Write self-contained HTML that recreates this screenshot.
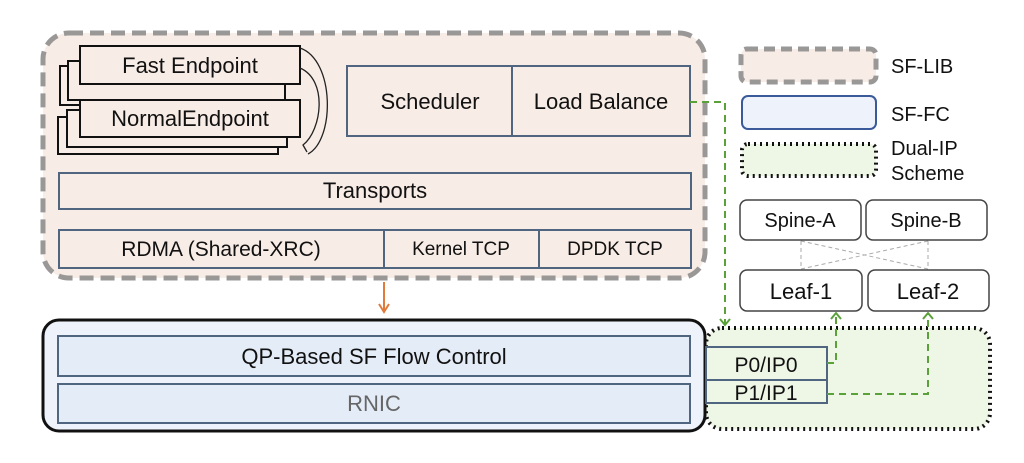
<!DOCTYPE html>
<html><head><meta charset="utf-8"><style>
html,body{margin:0;padding:0;background:#fff;}
svg{display:block;}
text{font-family:"Liberation Sans","DejaVu Sans",sans-serif;fill:#111;}
</style></head><body>
<svg width="1024" height="463" viewBox="0 0 1024 463" xmlns="http://www.w3.org/2000/svg">
<defs>
<marker id="ag" markerWidth="12" markerHeight="12" refX="9" refY="6" orient="auto" markerUnits="userSpaceOnUse"><path d="M3,1 L9,6 L3,11" fill="none" stroke="#5aa13a" stroke-width="2"/></marker>
</defs>
<rect x="43" y="33" width="662" height="245" rx="26" fill="#f8ece6" stroke="#9a9797" stroke-width="5" stroke-dasharray="14,7"/>
<g fill="#f8ece6" stroke="#111" stroke-width="2">
<rect x="60" y="66" width="215" height="39"/>
<rect x="68" y="61" width="217" height="39"/>
<rect x="80" y="46" width="220" height="38"/>
<rect x="58" y="117" width="220" height="37"/>
<rect x="67" y="110" width="220" height="37"/>
<rect x="80" y="100" width="220" height="37"/>
</g>
<path d="M300,48 C335,60 335,140 308,154" fill="none" stroke="#222" stroke-width="1.3"/>
<path d="M300,68 C328,80 322,130 303,145 L307,152" fill="none" stroke="#222" stroke-width="1.3"/>
<text x="190" y="73" font-size="22" text-anchor="middle">Fast Endpoint</text>
<text x="190" y="126" font-size="22" text-anchor="middle">NormalEndpoint</text>
<rect x="347" y="66" width="343" height="70" fill="#f8ece6" stroke="#4f6580" stroke-width="2"/>
<line x1="512" y1="66" x2="512" y2="136" stroke="#4f6580" stroke-width="2"/>
<text x="430" y="109" font-size="22" text-anchor="middle">Scheduler</text>
<text x="601" y="109" font-size="22" text-anchor="middle">Load Balance</text>
<rect x="59" y="173" width="632" height="36" fill="#f8ece6" stroke="#4f6580" stroke-width="2"/>
<text x="375" y="198" font-size="22" text-anchor="middle">Transports</text>
<rect x="59" y="230" width="632" height="38" fill="#f8ece6" stroke="#4f6580" stroke-width="2"/>
<line x1="384" y1="230" x2="384" y2="268" stroke="#4f6580" stroke-width="2"/>
<line x1="539" y1="230" x2="539" y2="268" stroke="#4f6580" stroke-width="2"/>
<text x="221" y="256" font-size="21" text-anchor="middle">RDMA (Shared-XRC)</text>
<text x="461" y="255" font-size="19" text-anchor="middle">Kernel TCP</text>
<text x="615" y="255" font-size="19" text-anchor="middle">DPDK TCP</text>
<line x1="384" y1="282" x2="384" y2="311" stroke="#e07b3c" stroke-width="2"/>
<path d="M379,304 L384,312 L389,304" fill="none" stroke="#e07b3c" stroke-width="2"/>
<rect x="706" y="328" width="284" height="101" rx="16" fill="#eef6e6" stroke="#111" stroke-width="4" stroke-dasharray="2,4"/>
<rect x="43" y="320" width="662" height="111" rx="16" fill="#eef3fb" stroke="#111" stroke-width="3"/>
<rect x="58" y="336" width="632" height="40" fill="#e4ecf7" stroke="#4f6580" stroke-width="2"/>
<rect x="58" y="384" width="632" height="39" fill="#e4ecf7" stroke="#4f6580" stroke-width="2"/>
<text x="374" y="364" font-size="22" text-anchor="middle">QP-Based SF Flow Control</text>
<text x="374" y="411" font-size="22" text-anchor="middle" style="fill:#666">RNIC</text>
<rect x="706" y="347" width="121" height="33" fill="#eef6e6" stroke="#4f6580" stroke-width="2"/>
<rect x="706" y="380" width="121" height="23" fill="#eef6e6" stroke="#4f6580" stroke-width="2"/>
<text x="766" y="372" font-size="21" text-anchor="middle">P0/IP0</text>
<text x="766" y="400" font-size="21" text-anchor="middle">P1/IP1</text>
<g stroke="#aaa" stroke-width="1" stroke-dasharray="4,3">
<line x1="801" y1="241" x2="801" y2="269"/><line x1="928" y1="241" x2="928" y2="269"/>
<line x1="801" y1="241" x2="928" y2="269"/><line x1="928" y1="241" x2="801" y2="269"/>
</g>
<g fill="#fff" stroke="#444" stroke-width="1.5">
<rect x="740" y="200" width="121" height="40" rx="7"/>
<rect x="866" y="200" width="121" height="40" rx="7"/>
<rect x="740" y="270" width="122" height="41" rx="7"/>
<rect x="868" y="270" width="121" height="41" rx="7"/>
</g>
<text x="800" y="227" font-size="20" text-anchor="middle">Spine-A</text>
<text x="926" y="227" font-size="20" text-anchor="middle">Spine-B</text>
<text x="801" y="299" font-size="22" text-anchor="middle">Leaf-1</text>
<text x="928" y="299" font-size="22" text-anchor="middle">Leaf-2</text>
<g fill="none" stroke="#5aa13a" stroke-width="2" stroke-dasharray="7,5">
<polyline points="690,102 725,102 725,325" marker-end="url(#ag)"/>
<polyline points="827,363 836,363 836,313" marker-end="url(#ag)"/>
<polyline points="827,394 928,394 928,313" marker-end="url(#ag)"/>
</g>
<rect x="741" y="49" width="135" height="33" rx="6" fill="#f8ece6" stroke="#9a9797" stroke-width="5" stroke-dasharray="11,6"/>
<rect x="742" y="96" width="134" height="33" rx="6" fill="#edf2fb" stroke="#3a5a9a" stroke-width="2"/>
<rect x="742" y="144" width="134" height="32" rx="6" fill="#eef6e6" stroke="#111" stroke-width="4" stroke-dasharray="2,4"/>
<text x="891" y="73" font-size="20">SF-LIB</text>
<text x="891" y="121" font-size="20">SF-FC</text>
<text x="891" y="155" font-size="20">Dual-IP</text>
<text x="891" y="180" font-size="20">Scheme</text>
</svg>
</body></html>
